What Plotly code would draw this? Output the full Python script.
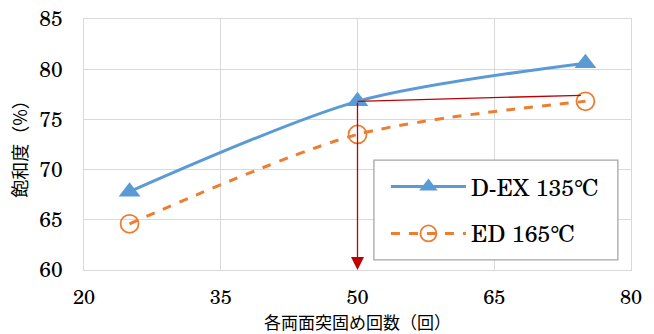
import plotly.graph_objects as go

x_vals = [25, 50, 75]
dex_vals = [67.8, 76.8, 80.6]
ed_vals = [64.6, 73.5, 76.8]
x_ticks = [20, 35, 50, 65, 80]
y_ticks = [60, 65, 70, 75, 80, 85]
ref_x = [50, 74.5]
ref_y = [76.8, 77.4]

serif = "Century Schoolbook, TeX Gyre Schola, Liberation Serif, DejaVu Serif, serif"
cjk = "Noto Sans CJK JP"

fig = go.Figure()
fig.add_trace(go.Scatter(
    x=x_vals, y=dex_vals, name="D-EX 135℃", mode="lines+markers", legendgroup="a",
    line=dict(color="#5B9BD5", width=3, shape="spline", smoothing=0.8),
    marker=dict(symbol="triangle-up", size=19, color="#5B9BD5"),
))
fig.add_trace(go.Scatter(
    x=x_vals, y=ed_vals, name="ED 165℃", mode="lines+markers", legendgroup="b",
    line=dict(color="#ED7D31", width=3, dash="dash", shape="spline", smoothing=0.8),
    marker=dict(symbol="circle-open", size=18, color="#ED7D31", line=dict(width=1.8)),
))

fig.add_shape(type="line", x0=ref_x[0], y0=ref_y[0], x1=ref_x[1], y1=ref_y[1],
              xref="x", yref="y", line=dict(color="#C00000", width=1.3))
fig.add_annotation(x=50, y=60, ax=ref_x[0], ay=ref_y[0], xref="x", yref="y",
                   axref="x", ayref="y", showarrow=True, arrowhead=2, arrowsize=2,
                   arrowwidth=1.3, arrowcolor="#C00000", text="")
# legend frame
fig.add_shape(type="rect", xref="paper", yref="paper", x0=0.530, x1=0.976,
              y0=0.040, y1=0.438, fillcolor="white",
              line=dict(color="#A6A6A6", width=1.3), layer="above")

fig.update_layout(
    width=654, height=334,
    margin=dict(l=84, r=23, t=19, b=64, autoexpand=False),
    paper_bgcolor="white", plot_bgcolor="white",
    font=dict(family=serif, size=21, color="#000"),
    showlegend=True,
    legend=dict(x=0.552, y=0.418, xanchor="left", yanchor="top",
                bgcolor="rgba(0,0,0,0)", borderwidth=0,
                font=dict(family=serif, size=23), itemwidth=75,
                tracegroupgap=14),
    xaxis=dict(range=[20, 80], tickvals=x_ticks, showgrid=True,
               gridcolor="#D9D9D9", gridwidth=1.3, showline=True,
               linecolor="#D9D9D9", linewidth=1.3, mirror=True, zeroline=False,
               ticks="", ticklabelstandoff=9, ticklabeloverflow="allow",
               tickfont=dict(family=serif, size=20),
               title=dict(text="各両面突固め回数（回）", font=dict(family=cjk, size=17),
                          standoff=5)),
    yaxis=dict(range=[60, 85], tickvals=y_ticks, showgrid=True,
               gridcolor="#D9D9D9", gridwidth=1.3, showline=True,
               linecolor="#D9D9D9", linewidth=1.3, mirror=True, zeroline=False,
               ticks="", ticklabelstandoff=16, ticklabeloverflow="allow",
               tickfont=dict(family=serif, size=21),
               title=dict(text="飽和度（%）", font=dict(family=cjk, size=18),
                          standoff=6)),
)

fig.write_html("out.html", config={"displayModeBar": False},
               post_script="document.body.style.margin='0';document.body.style.overflow='hidden';")
